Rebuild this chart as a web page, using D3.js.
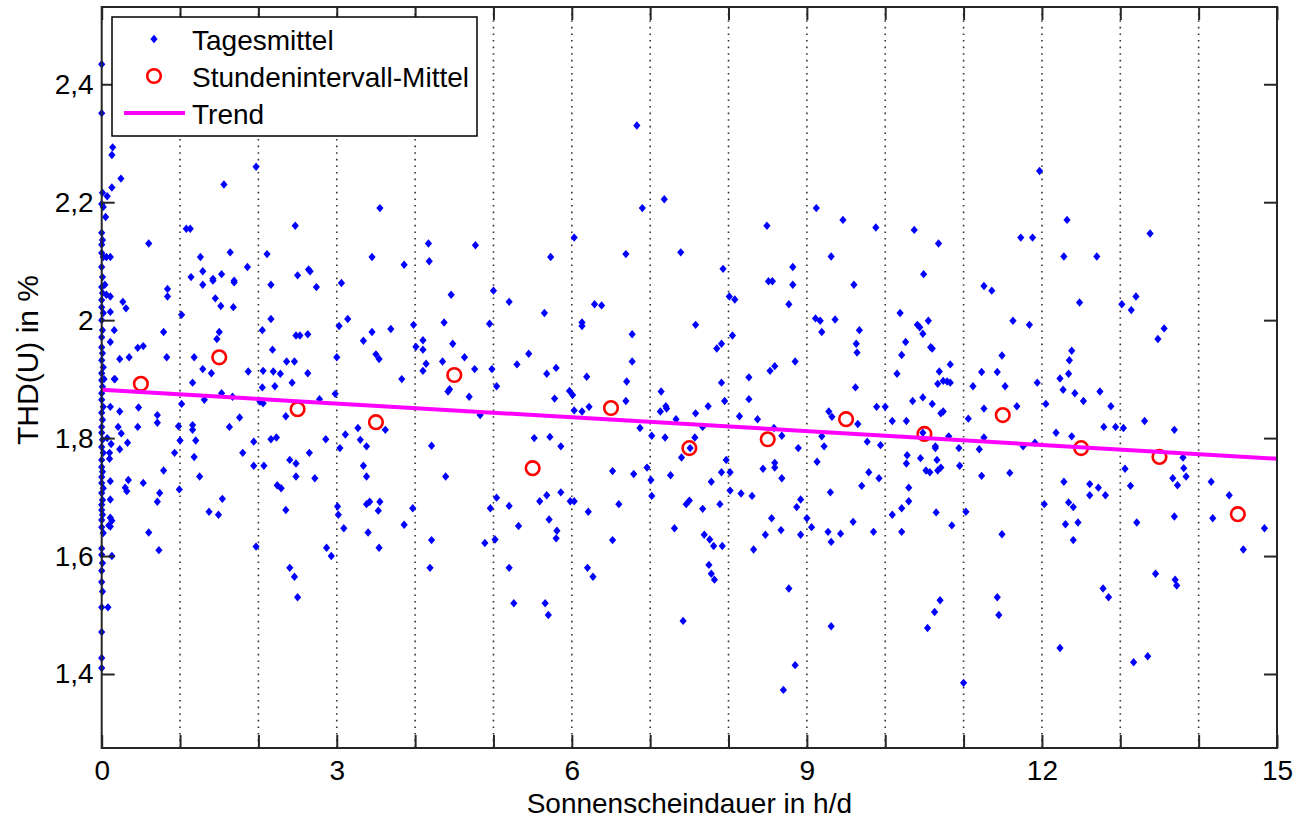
<!DOCTYPE html>
<html>
<head>
<meta charset="utf-8">
<script src="https://cdn.jsdelivr.net/npm/d3@7"></script>
<style>
  body { margin: 0; background: #fff; }
  text { font-family: "Liberation Sans", Arial, sans-serif; fill: #000; }
</style>
</head>
<body>
<div id="chart"></div>
<script>
// Tagesmittel: [Sonnenscheindauer h/d, THD(U) %]
var tagesmittel = [
  // Tage ohne Sonne
  [0,2.434],[0,2.351],[0.01,2.216],[0,2.197],[0.02,2.192],[0,2.148],[0.01,2.136],[0,2.128],[0,2.114],[0.02,2.107],
  [0,2.09],[0.01,2.073],[0,2.056],[0.01,2.046],[0,2.034],[0,2.022],[0.02,2.012],[0,2.0],[0.01,1.983],[0,1.971],
  [0,1.954],[0.01,1.944],[0,1.932],[0.02,1.92],[0,1.91],[0,1.898],[0.01,1.887],[0,1.876],[0,1.865],[0.02,1.853],
  [0,1.843],[0.01,1.831],[0,1.819],[0,1.809],[0.01,1.797],[0,1.785],[0.02,1.775],[0,1.763],[0,1.751],[0.01,1.743],
  [0,1.734],[0,1.724],[0.02,1.715],[0,1.707],[0.01,1.695],[0,1.687],[0,1.678],[0.01,1.67],[0,1.661],[0,1.649],
  [0.02,1.639],[0,1.613],[0,1.602],[0.01,1.588],[0,1.575],[0,1.556],[0.01,1.54],[0,1.513],[0,1.471],[0,1.427],[0,1.41],
  [0.06,2.107],[0.11,2.107],[0.04,2.06],[0.06,2.043],[0.03,1.9],[0.17,1.9],
  [0.07,1.8],[0.12,1.79],[0.1,1.775],[0.1,1.765],[0.13,1.66],[0.09,1.652],
  // oberer Bereich
  [0.14,2.293],[0.13,2.28],[0.245,2.24],[0.13,2.225],[0.07,2.21],[1.97,2.26],[1.56,2.23],[3.55,2.19],[0.05,2.175],
  [6.9,2.19],[7.18,2.205],[11.97,2.253],[9.12,2.19],[9.46,2.17],[12.32,2.17],[1.08,2.155],[1.13,2.155],[2.47,2.16],
  [8.49,2.16],[9.88,2.157],[10.37,2.153],[11.73,2.14],[11.88,2.14],[13.38,2.147],[6.03,2.14],[0.6,2.13],[4.17,2.13],
  [4.77,2.127],[10.68,2.13],[1.26,2.107],[1.64,2.115],[2.11,2.112],[3.45,2.107],[4.18,2.1],[3.86,2.094],[5.73,2.107],
  [6.69,2.112],[7.39,2.115],[9.31,2.108],[12.28,2.108],[12.7,2.108],[1.86,2.09],[1.29,2.083],[1.29,2.06],[1.14,2.073],
  [1.42,2.07],[1.42,2.067],[1.53,2.078],[1.69,2.067],[1.69,2.064],[2.16,2.06],[2.5,2.076],[2.64,2.086],[2.66,2.083],
  [2.74,2.056],[3.06,2.063],[7.93,2.087],[8.82,2.09],[8.51,2.066],[8.56,2.066],[8.82,2.06],[9.6,2.06],[10.49,2.078],
  [11.26,2.058],[11.36,2.05],[0.84,2.053],[0.84,2.04],[0.11,2.04],[1.45,2.037],[4.46,2.043],[5.0,2.05],[8.01,2.04],
  [8.08,2.035],[13.2,2.04],[6.83,2.33],
  // 0 bis 5 h/d
  [0.27,2.031],[0.31,2.02],[0.11,2.014],[0.16,1.983],[0.11,1.963],[0.16,1.9],[0.79,1.98],[0.46,1.953],[0.53,1.956],
  [0.23,1.934],[0.35,1.937],[0.83,1.937],[1.02,2.009],[1.52,2.024],[1.68,2.022],[1.5,1.98],[1.47,1.968],[1.18,1.937],
  [1.29,1.917],[1.4,1.91],[1.16,1.894],[1.87,1.913],[2.05,1.983],[2.16,2.002],[2.18,1.95],[2.06,1.914],[2.19,1.913],
  [2.28,1.909],[2.05,1.886],[2.21,1.888],[2.36,1.93],[2.46,1.93],[2.43,1.894],[2.63,1.91],[2.48,1.974],[2.53,1.974],
  [2.63,1.976],[3.03,1.99],[3.14,2.002],[3.0,1.937],[2.98,1.875],[3.34,1.965],[3.45,1.98],[3.69,1.985],[3.5,1.942],
  [3.54,1.934],[3.83,1.9],[3.98,1.992],[4.37,1.996],[4.01,1.955],[4.1,1.95],[4.1,1.966],[4.14,1.926],[4.1,1.914],
  [4.35,1.93],[4.48,1.96],[4.63,1.937],[4.76,1.917],[4.42,1.879],[4.44,1.883],[4.69,1.87],[4.95,1.994],[4.98,1.917],
  [5.04,1.888],[4.83,1.839],
  [0.11,1.853],[0.23,1.845],[0.47,1.852],[0.21,1.819],[0.25,1.808],[0.23,1.781],[0.33,1.792],[0.46,1.819],[0.71,1.839],
  [0.71,1.826],[0.98,1.82],[1.0,1.796],[0.93,1.775],[0.79,1.745],[1.16,1.822],[1.16,1.814],[1.2,1.796],[1.18,1.768],
  [1.25,1.735],[1.31,1.865],[1.02,1.858],[1.63,1.819],[1.76,1.835],[1.53,1.876],[1.67,1.87],[1.8,1.775],[1.94,1.794],
  [1.94,1.753],[2.07,1.753],[2.16,1.798],[2.23,1.801],[2.02,1.862],[2.06,1.859],[2.35,1.837],[2.4,1.763],[2.48,1.757],
  [2.48,1.735],[2.65,1.775],[2.72,1.732],[2.78,1.866],[2.86,1.798],[3.11,1.806],[3.04,1.783],[3.27,1.817],[3.3,1.797],
  [3.38,1.786],[3.62,1.814],[3.34,1.753],[3.38,1.735],[3.01,1.684],[3.02,1.67],[3.38,1.688],[3.42,1.692],[3.55,1.692],
  [3.53,1.677],[3.09,1.647],[3.4,1.64],[4.21,1.787],[4.39,1.735],[4.96,1.681],[3.97,1.681],[3.86,1.653],[4.21,1.627],
  [4.89,1.622],[5.04,1.699],[5.02,1.628],[0.11,1.727],[0.11,1.696],[0.11,1.665],[0.11,1.65],[0.34,1.729],[0.53,1.724],
  [0.3,1.716],[0.32,1.71],[0.74,1.707],[0.71,1.692],[0.6,1.64],[0.99,1.713],[1.54,1.697],[1.37,1.675],[1.49,1.67],
  [1.97,1.616],[2.35,1.678],[2.24,1.72],[2.29,1.715],[2.87,1.614],[3.54,1.614],
  // 5 bis 10 h/d
  [5.2,2.031],[5.65,2.012],[5.45,1.943],[5.3,1.925],[5.68,1.909],[5.8,1.919],[5.78,1.867],[6.29,2.027],[6.38,2.025],
  [6.13,1.996],[6.13,1.99],[6.19,1.904],[5.97,1.88],[6.01,1.873],[6.03,1.847],[6.13,1.845],[6.22,1.853],[6.77,1.976],
  [6.77,1.93],[6.7,1.896],[6.69,1.863],[7.58,1.992],[8.05,1.974],[7.85,1.952],[7.91,1.96],[7.91,1.894],[7.95,1.863],
  [8.26,1.903],[8.26,1.866],[8.53,1.914],[8.59,1.922],[8.85,1.93],[8.77,2.027],[9.11,2.003],[9.17,1.999],[9.36,2.001],
  [9.19,1.98],[9.67,1.983],[9.63,1.96],[9.64,1.945],[9.62,1.886],[9.89,1.853],[10.0,1.853],[10.15,1.909],[10.09,1.829],
  [9.28,1.845],[9.32,1.836],[9.65,1.824],[8.14,1.837],[8.37,1.832],[7.33,1.832],[7.58,1.842],[7.74,1.854],[7.14,1.879],
  [7.2,1.854],[7.21,1.85],[7.13,1.845],[6.87,1.817],[7.02,1.804],[7.19,1.801],[7.57,1.801],[7.67,1.819],[8.58,1.817],
  [8.68,1.804],[9.19,1.803],[9.22,1.786],[9.77,1.794],[9.94,1.788],
  [5.52,1.8],[5.72,1.802],[5.86,1.786],[5.2,1.685],[5.32,1.651],[5.59,1.693],[5.68,1.703],[5.86,1.708],[5.71,1.662],
  [5.81,1.643],[5.8,1.63],[5.98,1.693],[6.03,1.693],[6.21,1.675],[6.52,1.744],[6.52,1.627],[6.6,1.688],[6.79,1.739],
  [6.96,1.75],[7.01,1.729],[7.02,1.702],[7.4,1.767],[7.51,1.783],[7.26,1.737],[7.31,1.647],[7.46,1.688],[7.5,1.694],
  [7.67,1.68],[7.78,1.726],[7.69,1.636],[7.76,1.628],[7.81,1.617],[7.89,1.688],[7.91,1.742],[8.02,1.742],[7.97,1.763],
  [8.02,1.711],[8.16,1.706],[8.3,1.702],[7.92,1.617],[8.32,1.611],[8.44,1.748],[8.59,1.758],[8.59,1.75],[8.68,1.732],
  [8.55,1.664],[8.67,1.644],[8.47,1.636],[8.89,1.783],[8.92,1.696],[8.87,1.683],[9.06,1.649],[8.92,1.636],[9.0,1.664],
  [9.13,1.76],[9.27,1.641],[9.31,1.624],[9.3,1.708],[9.43,1.638],[9.59,1.658],[9.7,1.719],[9.79,1.742],[9.92,1.732],
  [9.85,1.641],[10.09,1.67],
  // 10 bis 15 h/d
  [10.19,2.012],[10.41,1.992],[10.44,1.988],[10.55,1.999],[10.48,1.977],[10.26,1.963],[10.21,1.941],[10.58,1.954],
  [10.6,1.952],[10.83,1.925],[10.69,1.913],[10.67,1.892],[10.74,1.897],[10.79,1.896],[10.83,1.894],[10.35,1.863],
  [10.48,1.869],[10.6,1.858],[10.71,1.842],[10.74,1.845],[10.27,1.829],[10.48,1.809],[10.81,1.803],[10.64,1.786],
  [10.64,1.783],[10.94,1.783],[10.28,1.771],[10.27,1.757],[10.45,1.766],[10.66,1.763],[10.52,1.745],[10.57,1.742],
  [10.67,1.745],[10.71,1.75],[10.95,1.753],[10.3,1.716],[10.3,1.693],[10.21,1.681],[10.21,1.641],[10.65,1.674],
  [10.85,1.652],[11.03,1.675],[11.06,1.833],[11.12,1.888],[11.23,1.912],[11.43,1.912],[11.26,1.85],[11.26,1.801],
  [11.2,1.781],[11.23,1.736],[11.49,1.94],[11.53,1.888],[11.63,1.999],[11.84,1.992],[11.68,1.854],[11.59,1.741],
  [11.49,1.637],[11.76,1.786],[11.94,1.894],[11.91,1.792],[12.03,1.688],[12.05,1.858],[12.23,1.901],[12.34,1.909],
  [12.35,1.932],[12.38,1.948],[12.27,1.882],[12.48,2.03],[12.42,1.876],[12.53,1.863],[12.18,1.809],[12.38,1.803],
  [12.28,1.726],[12.34,1.691],[12.4,1.683],[12.3,1.654],[12.46,1.657],[12.4,1.627],[12.61,1.722],[12.72,1.716],
  [12.61,1.703],[12.81,1.703],[12.74,1.879],[12.88,1.854],[12.79,1.819],[12.94,1.819],[13.04,1.817],[13.02,2.027],
  [13.14,2.017],[13.06,1.748],[13.13,1.719],[13.21,1.657],[13.31,1.829],[13.48,1.968],[13.56,1.986],[13.69,1.814],
  [13.67,1.732],[13.73,1.72],[13.81,1.749],[13.84,1.735],[13.8,1.767],[13.69,1.667],[14.16,1.726],[14.18,1.664],
  [14.39,1.703],[14.84,1.647],[14.57,1.611],
  // unterer Bereich
  [0.08,1.513],[0.13,1.6],[0.73,1.61],[2.4,1.58],[2.46,1.565],[2.5,1.53],[2.93,1.6],[4.19,1.58],[5.2,1.58],[5.26,1.52],
  [5.66,1.52],[5.7,1.5],[6.2,1.58],[6.27,1.565],[7.42,1.49],[7.75,1.585],[7.78,1.57],[7.82,1.56],[8.7,1.373],
  [8.85,1.415],[8.77,1.545],[9.31,1.481],[10.54,1.478],[10.63,1.505],[10.7,1.525],[11.0,1.385],[11.43,1.53],
  [11.45,1.5],[12.23,1.444],[12.78,1.545],[12.85,1.53],[13.17,1.42],[13.35,1.43],[13.45,1.57],[13.7,1.56],[13.72,1.55]
];

// Stundenintervall-Mittel
var stundenX = [0.5, 1.5, 2.5, 3.5, 4.5, 5.5, 6.5, 7.5, 8.5, 9.5, 10.5, 11.5, 12.5, 13.5, 14.5];
var stundenY = [1.892, 1.937, 1.849, 1.827, 1.907, 1.749, 1.851, 1.783, 1.798, 1.832, 1.807, 1.839, 1.783, 1.768, 1.671];

// Trend
var trendX = [0, 15];
var trendY = [1.882, 1.765];

var xTicks = d3.range(0, 16);
var xTickLabels = {0: "0", 3: "3", 6: "6", 9: "9", 12: "12", 15: "15"};
var yTicks = [1.4, 1.6, 1.8, 2.0, 2.2, 2.4];
var yTickLabels = ["1,4", "1,6", "1,8", "2", "2,2", "2,4"];

var width = 1298, height = 818;
var plotL = 101.7, plotR = 1277, plotT = 7, plotB = 748;

var x = d3.scaleLinear().domain([0, 15]).range([plotL, plotR]);
var y = d3.scaleLinear().domain([1.2745, 2.531]).range([plotB, plotT]);

var svg = d3.select("#chart").append("svg")
    .attr("width", width)
    .attr("height", height);

// grid
svg.append("g")
  .selectAll("line")
  .data(xTicks.filter(function(d) { return d > 0 && d < 15; }))
  .enter().append("line")
    .attr("x1", function(d) { return x(d); })
    .attr("x2", function(d) { return x(d); })
    .attr("y1", plotT)
    .attr("y2", plotB)
    .attr("stroke", "#333")
    .attr("stroke-width", 1.6)
    .attr("stroke-dasharray", "1.6,5");

// Tagesmittel
svg.append("g")
  .selectAll("path")
  .data(tagesmittel)
  .enter().append("path")
    .attr("d", "M0,-4.2L3.6,0L0,4.2L-3.6,0Z")
    .attr("transform", function(d) { return "translate(" + x(d[0]) + "," + y(d[1]) + ")"; })
    .attr("fill", "#0000ff");

// Stundenintervall-Mittel
svg.append("g")
  .selectAll("circle")
  .data(stundenX)
  .enter().append("circle")
    .attr("cx", function(d) { return x(d); })
    .attr("cy", function(d, i) { return y(stundenY[i]); })
    .attr("r", 6.8)
    .attr("fill", "none")
    .attr("stroke", "#ff0000")
    .attr("stroke-width", 2.6);

// Trend
var line = d3.line()
    .x(function(d) { return x(d); })
    .y(function(d, i) { return y(trendY[i]); });

svg.append("path")
    .datum(trendX)
    .attr("d", line)
    .attr("fill", "none")
    .attr("stroke", "#ff00ff")
    .attr("stroke-width", 4);

// axes
var fontSize = 28;

var xAxis = d3.axisBottom(x)
    .tickValues(xTicks)
    .tickSizeInner(-13).tickSizeOuter(0)
    .tickPadding(12)
    .tickFormat(function(d) { return xTickLabels[d] || ""; });

var gx = svg.append("g")
    .attr("transform", "translate(0," + plotB + ")")
    .call(xAxis);

var yAxis = d3.axisLeft(y)
    .tickValues(yTicks)
    .tickSizeInner(-13).tickSizeOuter(0)
    .tickPadding(8)
    .tickFormat(function(d, i) { return yTickLabels[i]; });

var gy = svg.append("g")
    .attr("transform", "translate(" + plotL + ",0)")
    .call(yAxis);

var gt = svg.append("g")
    .attr("transform", "translate(0," + plotT + ")")
    .call(d3.axisTop(x).tickValues(xTicks).tickSizeInner(-13).tickSizeOuter(0).tickFormat(""));

var gr = svg.append("g")
    .attr("transform", "translate(" + plotR + ",0)")
    .call(d3.axisRight(y).tickValues(yTicks).tickSizeInner(-13).tickSizeOuter(0).tickFormat(""));

[gx, gy, gt, gr].forEach(function(g) {
  g.select(".domain").remove();
  g.selectAll(".tick line").attr("stroke", "#262626").attr("stroke-width", 2);
  g.selectAll(".tick text")
    .style("font-size", fontSize + "px")
    .style("font-family", "'Liberation Sans', Arial, sans-serif")
    .attr("fill", "#000");
});

svg.append("rect")
    .attr("x", plotL)
    .attr("y", plotT)
    .attr("width", plotR - plotL)
    .attr("height", plotB - plotT)
    .attr("fill", "none")
    .attr("stroke", "#262626")
    .attr("stroke-width", 2);

// axis labels
svg.append("text")
    .attr("x", (plotL + plotR) / 2)
    .attr("y", 813)
    .attr("text-anchor", "middle")
    .style("font-size", "28px")
    .text("Sonnenscheindauer in h/d");

svg.append("text")
    .attr("transform", "translate(38," + 360 + ")rotate(-90)")
    .attr("text-anchor", "middle")
    .style("font-size", "30px")
    .text("THD(U) in %");

// legend
var legend = svg.append("g");

legend.append("rect")
    .attr("x", 112)
    .attr("y", 17)
    .attr("width", 365)
    .attr("height", 119)
    .attr("fill", "#fff")
    .attr("stroke", "#000")
    .attr("stroke-width", 1.5);

legend.append("path")
    .attr("d", "M0,-4.2L3.6,0L0,4.2L-3.6,0Z")
    .attr("transform", "translate(154,39)")
    .attr("fill", "#0000ff");

legend.append("circle")
    .attr("cx", 154)
    .attr("cy", 76)
    .attr("r", 6.8)
    .attr("fill", "none")
    .attr("stroke", "#ff0000")
    .attr("stroke-width", 2.6);

legend.append("line")
    .attr("x1", 124).attr("x2", 185)
    .attr("y1", 113).attr("y2", 113)
    .attr("stroke", "#ff00ff")
    .attr("stroke-width", 4);

var legendLabels = ["Tagesmittel", "Stundenintervall-Mittel", "Trend"];
legend.selectAll("text.lbl")
  .data(legendLabels)
  .enter().append("text")
    .attr("class", "lbl")
    .attr("x", 192)
    .attr("y", function(d, i) { return 50 + i * 37; })
    .style("font-size", "28px")
    .text(function(d) { return d; });
</script>
</body>
</html>
